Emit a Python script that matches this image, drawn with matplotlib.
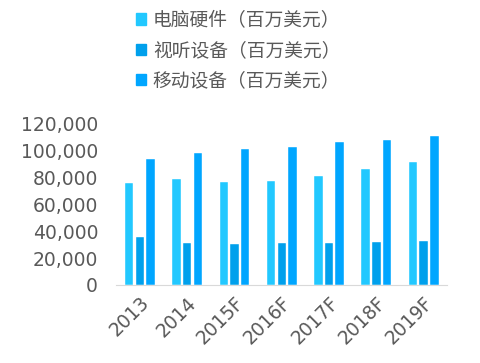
import numpy as np
import matplotlib.pyplot as plt
from matplotlib.patches import Patch
from matplotlib.ticker import FuncFormatter

plt.rcParams['font.family'] = ['DejaVu Sans', 'Noto Sans CJK SC']

# Data
years = ["2013", "2014", "2015F", "2016F", "2017F", "2018F", "2019F"]
pc_hw = [75800, 79000, 76500, 77000, 81200, 86000, 91000]
av_dev = [35500, 31000, 30300, 30800, 31000, 32000, 32300]
mobile = [93600, 98000, 101300, 102600, 106000, 108000, 110500]
names = ["电脑硬件（百万美元）", "视听设备（百万美元）", "移动设备（百万美元）"]
colors = ["#22c8ff", "#00a0ec", "#00a6ff"]

fig = plt.figure(figsize=(4.8, 3.63), dpi=100)
ax = fig.add_axes([0.242, 0.215, 0.69, 0.445])

x = np.arange(len(years))
w = 0.18
off = 0.225
for i, vals in enumerate([pc_hw, av_dev, mobile]):
    ax.bar(x + (i - 1) * off, vals, w, color=colors[i], edgecolor="white", linewidth=0.3)

ax.set_xlim(-0.5, len(years) - 0.5)
ax.set_ylim(0, 120000)
ax.set_yticks(range(0, 120001, 20000))
ax.yaxis.set_major_formatter(FuncFormatter(lambda v, p: f"{int(v):,}"))
ax.set_xticks(x)
ax.set_xticklabels(years, rotation=45, ha="right", rotation_mode="anchor")

for s in ["top", "right", "left"]:
    ax.spines[s].set_visible(False)
ax.spines["bottom"].set_color("#d9d9d9")
ax.tick_params(axis="both", length=0, colors="#595959", labelsize=13.5)
ax.tick_params(axis="y", pad=13)
ax.tick_params(axis="x", pad=6)

handles = [Patch(color=c) for c in colors]
leg = fig.legend(handles, names, loc="upper left", bbox_to_anchor=(0.248, 1.02),
                 frameon=False, handlelength=0.55, handleheight=0.55,
                 handletextpad=0.35, labelspacing=0.5, labelcolor="#595959",
                 prop={"family": ["Noto Sans CJK SC", "DejaVu Sans"], "size": 13.5})

fig.savefig("out.png", dpi=100)
